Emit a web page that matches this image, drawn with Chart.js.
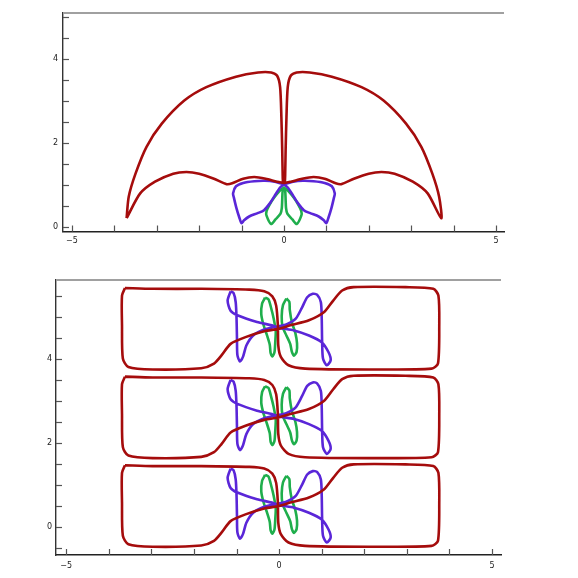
<!DOCTYPE html>
<html>
<head>
<meta charset="utf-8">
<script src="https://cdn.jsdelivr.net/npm/chart.js@4"></script>
<style>
  body { margin: 0; background: #fff; width: 578px; height: 578px; position: relative; overflow: hidden; }
  canvas { position: absolute; left: 0; }
</style>
</head>
<body>
<canvas id="topChart" width="578" height="260" style="top:0"></canvas>
<canvas id="bottomChart" width="578" height="313" style="top:265px"></canvas>
<script>
// ---- top panel curves ([x, y] points) ----
const topRed = [
  [-3.71, 0.21], [-3.66, 0.72], [-3.50, 1.27], [-3.24, 1.91], [-2.88, 2.46], [-2.35, 3.01],
  [-1.83, 3.33], [-1.13, 3.58], [-0.61, 3.68], [-0.30, 3.68], [-0.16, 3.60], [-0.09, 3.33],
  [-0.06, 2.62], [-0.04, 1.83], [-0.03, 1.27], [-0.02, 1.08],
  [0.02, 1.05], [0.17, 1.08], [0.43, 1.15], [0.70, 1.19], [0.96, 1.15], [1.22, 1.04],
  [1.35, 1.02], [1.65, 1.15], [2.00, 1.27], [2.30, 1.31], [2.61, 1.27], [3.04, 1.08],
  [3.39, 0.80], [3.71, 0.21],
  [3.66, 0.72], [3.50, 1.27], [3.24, 1.91], [2.88, 2.46], [2.35, 3.01], [1.83, 3.33],
  [1.13, 3.58], [0.61, 3.68], [0.30, 3.68], [0.16, 3.60], [0.09, 3.33], [0.06, 2.62],
  [0.04, 1.83], [0.03, 1.27], [0.02, 1.08],
  [-0.02, 1.05], [-0.17, 1.08], [-0.43, 1.15], [-0.70, 1.19], [-0.96, 1.15], [-1.22, 1.04],
  [-1.35, 1.02], [-1.65, 1.15], [-2.00, 1.27], [-2.30, 1.31], [-2.61, 1.27], [-3.04, 1.08],
  [-3.39, 0.80], [-3.71, 0.21]
];
const topBlue = [
  [0.00, 1.02], [-0.10, 0.93], [-0.22, 0.74], [-0.32, 0.58], [-0.47, 0.40], [-0.62, 0.33],
  [-0.82, 0.25], [-0.94, 0.16], [-1.00, 0.09], [-1.05, 0.22], [-1.12, 0.45], [-1.18, 0.70],
  [-1.20, 0.80], [-1.13, 0.97], [-0.96, 1.05], [-0.70, 1.09], [-0.45, 1.10], [-0.22, 1.08],
  [0.00, 1.02], [0.22, 1.08], [0.45, 1.10], [0.70, 1.09], [0.96, 1.05], [1.13, 0.97],
  [1.20, 0.80], [1.18, 0.70], [1.12, 0.45], [1.05, 0.22], [1.00, 0.09], [0.94, 0.16],
  [0.82, 0.25], [0.62, 0.33], [0.47, 0.40], [0.32, 0.58], [0.22, 0.74], [0.10, 0.93],
  [0.00, 1.02]
];
const topGreen = [
  [0.00, 0.94], [-0.11, 0.85], [-0.23, 0.70], [-0.34, 0.53], [-0.41, 0.38], [-0.41, 0.27],
  [-0.30, 0.07], [-0.20, 0.18], [-0.08, 0.32], [-0.05, 0.45], [-0.04, 0.65], [-0.03, 0.86],
  [0.00, 0.94], [0.03, 0.86], [0.04, 0.65], [0.05, 0.45], [0.08, 0.32], [0.20, 0.18],
  [0.30, 0.07], [0.41, 0.27], [0.41, 0.38], [0.34, 0.53], [0.23, 0.70], [0.11, 0.85],
  [0.00, 0.94]
];

// ---- bottom panel: one band, repeated at these vertical offsets ----
const bandOffsets = [0, 2.11, 4.22];
const bandRed = [
  [-3.62, 1.47], [-2.97, 1.45], [-1.83, 1.45], [-0.70, 1.43], [-0.35, 1.39], [-0.16, 1.27],
  [-0.07, 1.05], [-0.03, 0.58], [-0.02, 0.10], [0.04, -0.17], [0.22, -0.37], [0.61, -0.45],
  [2.10, -0.47], [3.58, -0.45], [3.73, -0.33], [3.76, 0.58], [3.74, 1.29], [3.62, 1.45],
  [2.97, 1.49], [1.75, 1.49], [1.48, 1.41], [1.27, 1.17], [1.05, 0.89], [0.70, 0.70],
  [0.26, 0.58], [0.00, 0.50], [-0.35, 0.44], [-0.79, 0.30], [-1.14, 0.14], [-1.35, -0.13],
  [-1.53, -0.33], [-1.83, -0.44], [-2.97, -0.47], [-3.54, -0.41], [-3.67, -0.21],
  [-3.69, 0.58], [-3.69, 1.29], [-3.62, 1.47]
];
const bandBlue = [
  [-1.14, 1.39], [-1.21, 1.17], [-1.14, 0.93], [-0.98, 0.82], [-0.52, 0.66], [-0.17, 0.58],
  [0.00, 0.52], [0.35, 0.46], [0.70, 0.34], [1.00, 0.18], [1.16, -0.06], [1.21, -0.25],
  [1.12, -0.37], [1.03, -0.21], [1.01, 0.18], [1.00, 0.74], [0.98, 1.13], [0.89, 1.31],
  [0.79, 1.33], [0.66, 1.25], [0.54, 1.01], [0.39, 0.74], [0.17, 0.60], [0.00, 0.56],
  [-0.35, 0.48], [-0.61, 0.34], [-0.77, 0.10], [-0.85, -0.17], [-0.92, -0.28],
  [-0.98, -0.13], [-0.99, 0.26], [-1.00, 0.74], [-1.02, 1.13], [-1.07, 1.35], [-1.14, 1.39]
];
const bandGreenLeft = [
  [-0.33, 1.24], [-0.40, 1.10], [-0.42, 0.85], [-0.37, 0.60], [-0.29, 0.36], [-0.22, 0.12],
  [-0.20, -0.08], [-0.16, -0.16], [-0.11, -0.06], [-0.09, 0.20], [-0.08, 0.45], [-0.13, 0.75],
  [-0.19, 1.00], [-0.25, 1.20], [-0.33, 1.24]
];
const bandGreenRight = [
  [0.17, 1.22], [0.09, 1.06], [0.06, 0.80], [0.08, 0.55], [0.17, 0.34], [0.26, 0.14],
  [0.30, -0.05], [0.35, -0.14], [0.41, -0.05], [0.42, 0.15], [0.38, 0.40], [0.30, 0.65],
  [0.25, 0.95], [0.24, 1.14], [0.17, 1.22]
];

// ---- ticks ----
const xTickValues = [-5, -4, -3, -2, -1, 0, 1, 2, 3, 4, 5];
const xTickLabels = [-5, 0, 5];
const topYTickValues = [0, 0.5, 1, 1.5, 2, 2.5, 3, 3.5, 4, 4.5, 5];
const bottomYTickValues = [-0.5, 0, 0.5, 1, 1.5, 2, 2.5, 3, 3.5, 4, 4.5, 5, 5.5];
const yTickLabels = [0, 2, 4];

const RED = '#a50c0c';
const BLUE = '#5a26d8';
const GREEN = '#1fae4c';

function line(points, color, dy) {
    return {
        data: points.map(p => ({ x: p[0], y: p[1] + (dy || 0) })),
        borderColor: color,
        borderWidth: 2.6,
        showLine: true,
        pointRadius: 0,
        fill: false,
        tension: 0.25
    };
}

// inward tick marks and the grey top frame line
const frame = {
    id: 'frame',
    afterDraw(chart) {
        const { ctx, chartArea } = chart;
        const xs = chart.scales.x, ys = chart.scales.y;
        ctx.save();
        ctx.strokeStyle = '#a0a0a0';
        ctx.lineWidth = 2;
        ctx.beginPath();
        ctx.moveTo(chartArea.left, chartArea.top);
        ctx.lineTo(chartArea.right, chartArea.top);
        ctx.stroke();
        ctx.strokeStyle = '#555';
        ctx.lineWidth = 1.2;
        xs.ticks.forEach(t => {
            const px = Math.round(xs.getPixelForValue(t.value)) + 0.5;
            ctx.beginPath();
            ctx.moveTo(px, chartArea.bottom);
            ctx.lineTo(px, chartArea.bottom - 6);
            ctx.stroke();
        });
        ys.ticks.forEach(t => {
            const py = Math.round(ys.getPixelForValue(t.value)) + 0.5;
            ctx.beginPath();
            ctx.moveTo(chartArea.left, py);
            ctx.lineTo(chartArea.left + 6, py);
            ctx.stroke();
        });
        ctx.restore();
    }
};

function makeChart(id, datasets, xr, yr, yTicks, yWidth, xHeight, xPad, yPad, padding) {
    new Chart(document.getElementById(id), {
        type: 'scatter',
        data: { datasets: datasets },
        options: {
            responsive: false,
            animation: false,
            layout: { padding: padding },
            plugins: { legend: { display: false }, tooltip: { enabled: false } },
            scales: {
                x: {
                    type: 'linear', min: xr[0], max: xr[1],
                    grid: { display: false, drawTicks: false },
                    border: { display: true, color: '#222', width: 1.4 },
                    afterBuildTicks: s => { s.ticks = xTickValues.map(v => ({ value: v })); },
                    afterFit: s => { s.height = xHeight; },
                    ticks: {
                        padding: xPad, maxRotation: 0, autoSkip: false,
                        color: '#222', font: { family: 'DejaVu Sans', size: 8 },
                        callback: v => xTickLabels.includes(v) ? String(v).replace('-', '\u2212') : ''
                    }
                },
                y: {
                    type: 'linear', min: yr[0], max: yr[1],
                    grid: { display: false, drawTicks: false },
                    border: { display: true, color: '#333', width: 1.4 },
                    afterBuildTicks: s => { s.ticks = yTicks.map(v => ({ value: v })); },
                    afterFit: s => { s.width = yWidth; },
                    ticks: {
                        padding: yPad, autoSkip: false,
                        color: '#222', font: { family: 'DejaVu Sans', size: 8 },
                        callback: v => yTickLabels.includes(v) ? String(v) : ''
                    }
                }
            }
        },
        plugins: [frame]
    });
}

makeChart('topChart',
    [line(topRed, RED), line(topBlue, BLUE), line(topGreen, GREEN)],
    [-5.21, 5.19], [-0.107, 5.095], topYTickValues, 63, 28.5, 5, 5,
    { top: 13, right: 74, left: 0, bottom: 0 });

const bandSets = [];
bandOffsets.forEach(dy => {
    bandSets.push(line(bandRed, RED, dy));
    bandSets.push(line(bandBlue, BLUE, dy));
    bandSets.push(line(bandGreenLeft, GREEN, dy));
    bandSets.push(line(bandGreenRight, GREEN, dy));
});
makeChart('bottomChart', bandSets,
    [-5.24, 5.21], [-0.667, 5.88], bottomYTickValues, 56, 23, 6, 4,
    { top: 15, right: 77, left: 0, bottom: 0 });
</script>
</body>
</html>
